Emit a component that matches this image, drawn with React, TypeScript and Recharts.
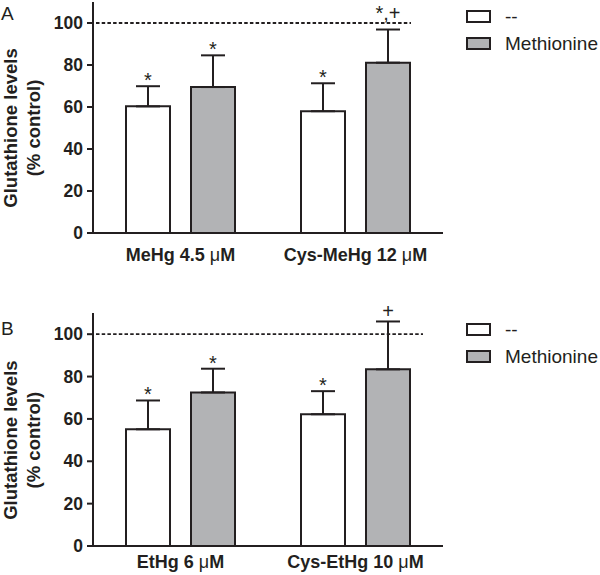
import React from "react";
import { BarChart, Bar, XAxis, YAxis, ErrorBar, LabelList, Legend, ReferenceLine } from "recharts";

const groupsA = ["MeHg 4.5 μM", "Cys-MeHg 12 μM"];
const noneA = [60.3, 58.0];
const noneErrA = [9.6, 13.3];
const methA = [69.5, 81.1];
const methErrA = [15.1, 15.8];
const noneMarksA = ["*", "*"];
const methMarksA = ["*", "*,+"];

const groupsB = ["EtHg 6 μM", "Cys-EtHg 10 μM"];
const noneB = [55.1, 62.2];
const noneErrB = [13.6, 10.9];
const methB = [72.5, 83.4];
const methErrB = [11.2, 22.6];
const noneMarksB = ["*", "*"];
const methMarksB = ["*", "+"];

const yTicks = [0, 20, 40, 60, 80, 100];
const seriesNames = ["--", "Methionine"];

const INK = "#231f20";
const GRAY = "#b2b3b5";
const FONT = "'Liberation Sans', Arial, Helvetica, sans-serif";

function buildRows(groups: string[], none: number[], noneErr: number[], meth: number[], methErr: number[], noneMarks: string[], methMarks: string[]) {
  return groups.map((g, i) => ({
    group: g,
    none: none[i],
    noneErr: [0, noneErr[i]],
    noneMark: noneMarks[i],
    meth: meth[i],
    methErr: [0, methErr[i]],
    methMark: methMarks[i],
  }));
}

const XTick = ({ x, y, payload, dy }: any) => {
  const parts = String(payload.value).split("μ");
  return (
    <text x={x} y={y + dy} textAnchor="middle" fontFamily={FONT} fontSize={18} fontWeight="bold" fill={INK}>
      {parts[0]}
      {parts.length > 1 && <tspan fontWeight="normal">μ</tspan>}
      {parts.length > 1 && parts[1]}
    </text>
  );
};

const LegendBox = ({ payload }: any) => (
  <div style={{ fontFamily: FONT }}>
    {(payload || []).map((entry: any) => (
      <div key={entry.value} style={{ display: "flex", alignItems: "center", height: 27 }}>
        <div
          style={{
            boxSizing: "border-box",
            width: 25,
            height: 13,
            border: `2px solid ${INK}`,
            background: entry.payload?.fill ?? entry.color,
          }}
        />
        <span style={{ marginLeft: 14, fontSize: 19, color: INK, whiteSpace: "nowrap" }}>{entry.value}</span>
      </div>
    ))}
  </div>
);

function Panel({ letter, letterY, rows, height, top, bottom, tickDy, legendTop, refTrim }: any) {
  const markRenderer = (key: string) => (p: any) => {
    const vb = p.viewBox || p;
    const row = rows[p.index];
    if (!row) return null;
    const pxPerUnit = vb.height / row[key];
    const capY = vb.y - row[key + "Err"][1] * pxPerUnit;
    const mark = String(p.value);
    // keep the "+" clear of the cap, and "*,+" above the dashed line
    const lift = mark.includes(",") ? 11 : mark.includes("+") ? 4 : 0;
    return (
      <text x={vb.x + vb.width / 2} y={capY + 1 - lift} textAnchor="middle" fontFamily={FONT} fontSize={20} fill={INK} stroke="none">
        {mark}
      </text>
    );
  };

  const yLabel = (p: any) => {
    const vb = p.viewBox;
    const cy = vb.y + (vb.height * (110 - 50)) / 110;
    return (
      <g>
        <text x={1} y={letterY} fontFamily={FONT} fontSize={19} fill={INK}>
          {letter}
        </text>
        <text transform="rotate(-90)" x={-cy} y={17} textAnchor="middle" fontFamily={FONT} fontSize={18.5} fontWeight="bold" fill={INK}>
          Glutathione levels
        </text>
        <text transform="rotate(-90)" x={-cy} y={40} textAnchor="middle" fontFamily={FONT} fontSize={18.5} fontWeight="bold" fill={INK}>
          (% control)
        </text>
      </g>
    );
  };

  return (
    <BarChart
      width={600}
      height={height}
      data={rows}
      margin={{ top, right: 157, bottom, left: 0 }}
      barSize={44}
      barGap={21}
    >
      <ReferenceLine
        y={100}
        shape={(s: any) => (
          <line x1={s.x1 + 3} y1={s.y1} x2={s.x2 - refTrim} y2={s.y2} stroke={INK} strokeWidth={1.8} strokeDasharray="3.5 2.2" />
        )}
      />
      <XAxis
        dataKey="group"
        axisLine={{ stroke: INK, strokeWidth: 2 }}
        tickLine={false}
        tickSize={0}
        tickMargin={0}
        height={40}
        tick={<XTick dy={tickDy} />}
        interval={0}
      />
      <YAxis
        domain={[0, 110]}
        ticks={yTicks}
        width={93}
        axisLine={{ stroke: INK, strokeWidth: 2 }}
        tickLine={{ stroke: INK, strokeWidth: 2 }}
        tickSize={6}
        tickMargin={4}
        tick={{ fill: INK, fontSize: 17.5, fontWeight: "bold", fontFamily: FONT }}
        label={yLabel}
      />
      <Legend
        layout="vertical"
        align="center"
        verticalAlign="middle"
        wrapperStyle={{ left: 466, top: legendTop, width: 134 }}
        content={<LegendBox />}
      />
      <Bar dataKey="none" name={seriesNames[0]} fill="#ffffff" stroke={INK} strokeWidth={2} isAnimationActive={false}>
        <ErrorBar dataKey="noneErr" width={12} stroke={INK} strokeWidth={2} isAnimationActive={false} />
        <LabelList dataKey="noneMark" content={markRenderer("none")} />
      </Bar>
      <Bar dataKey="meth" name={seriesNames[1]} fill={GRAY} stroke={INK} strokeWidth={2} isAnimationActive={false}>
        <ErrorBar dataKey="methErr" width={12} stroke={INK} strokeWidth={2} isAnimationActive={false} />
        <LabelList dataKey="methMark" content={markRenderer("meth")} />
      </Bar>
    </BarChart>
  );
}

export default function App() {
  const rowsA = buildRows(groupsA, noneA, noneErrA, methA, methErrA, noneMarksA, methMarksA);
  const rowsB = buildRows(groupsB, noneB, noneErrB, methB, methErrB, noneMarksB, methMarksB);
  return (
    <div style={{ position: "absolute", left: 0, top: 0, width: 600, height: 575, background: "#fff", fontFamily: FONT }}>
      <Panel letter="A" letterY={20} rows={rowsA} height={287} top={2} bottom={14} tickDy={28} legendTop={3} refTrim={32} />
      <Panel letter="B" letterY={48} rows={rowsB} height={288} top={26} bottom={-11} tickDy={22} legendTop={29} refTrim={20} />
    </div>
  );
}
